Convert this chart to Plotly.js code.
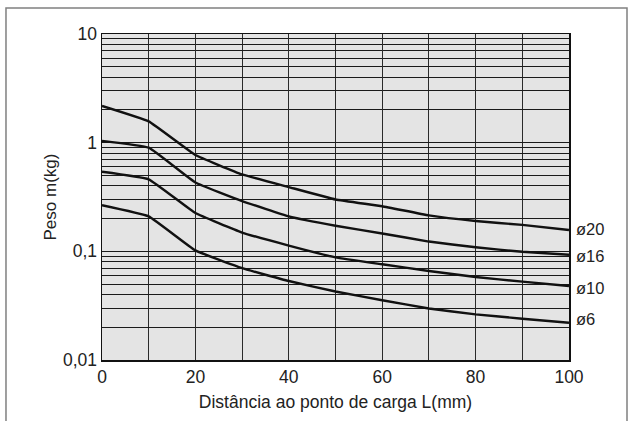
<!DOCTYPE html>
<html><head><meta charset="utf-8">
<script src="https://cdn.plot.ly/plotly-3.0.1.min.js"></script>
<style>html,body{margin:0;padding:0;background:#fff;}#chart{width:632px;height:421px;}</style>
</head><body><div id="chart"></div>
<script>
const distance = [0, 10, 20, 30, 40, 50, 60, 70, 80, 90, 100];
const seriesNames = ["ø20", "ø16", "ø10", "ø6"];
const mass20 = [2.18, 1.57, 0.77, 0.51, 0.39, 0.30, 0.26, 0.214, 0.19, 0.175, 0.157];
const mass16 = [1.04, 0.90, 0.43, 0.29, 0.21, 0.172, 0.146, 0.123, 0.109, 0.099, 0.093];
const mass10 = [0.54, 0.46, 0.225, 0.149, 0.113, 0.088, 0.076, 0.066, 0.058, 0.0526, 0.048];
const mass6  = [0.266, 0.21, 0.102, 0.070, 0.0533, 0.0427, 0.0355, 0.0298, 0.0263, 0.024, 0.022];
const yTickVals = [0.01, 0.1, 1, 10];
const yTickText = ["0,01", "0,1", "1", "10"];
const xTickVals = [0, 20, 40, 60, 80, 100];

const FONT = "Liberation Sans, Arial, Helvetica, sans-serif";
const allSeries = [mass20, mass16, mass10, mass6];
const labelShift = [1, -1, -2, 4];
const traces = allSeries.map((ys, i) => ({
  x: distance, y: ys, type: "scatter", mode: "lines", name: seriesNames[i],
  line: {color: "#111", width: 2.4, shape: "spline", smoothing: 0.3},
  hoverinfo: "skip"
}));

const annotations = allSeries.map((ys, i) => ({
  x: 100, y: Math.log10(ys[ys.length - 1]), xref: "x", yref: "y",
  text: seriesNames[i], showarrow: false, xanchor: "left", xshift: 5, yshift: labelShift[i],
  font: {family: FONT, size: 16.5, color: "#222"}
}));

const layout = {
  width: 632, height: 421,
  margin: {l: 102, r: 63, t: 34, b: 61},
  paper_bgcolor: "#fff", plot_bgcolor: "#e4e4e4",
  showlegend: false,
  font: {family: FONT, color: "#222"},
  xaxis: {
    range: [0, 100], tickvals: xTickVals, ticks: "",
    tickfont: {size: 17.5},
    showgrid: true, gridcolor: "#2a2a2a", gridwidth: 1,
    minor: {dtick: 10, showgrid: true, gridcolor: "#2a2a2a", gridwidth: 1},
    showline: true, linecolor: "#111", linewidth: 1.5, mirror: true,
    zeroline: false,
    title: {text: "Distância ao ponto de carga L(mm)", font: {size: 17.5}, standoff: 10}
  },
  yaxis: {
    type: "log", range: [-2, 1], tickvals: yTickVals, ticktext: yTickText, ticks: "",
    tickfont: {size: 17.5},
    showgrid: true, gridcolor: "#1a1a1a", gridwidth: 1,
    minor: {dtick: "D1", showgrid: true, gridcolor: "#1a1a1a", gridwidth: 1},
    showline: true, linecolor: "#111", linewidth: 1.5, mirror: true,
    zeroline: false,
    title: {text: "Peso m(kg)", font: {size: 17}, standoff: 2}
  },
  annotations: annotations,
  shapes: [{
    type: "path", xref: "paper", yref: "paper",
    path: "M -0.2056 -0.19 L -0.2056 1.0798 L 1.1242 1.0798 L 1.1242 -0.19",
    line: {color: "#808080", width: 1.5}
  }]
};

Plotly.newPlot("chart", traces, layout, {displayModeBar: false, staticPlot: true});
</script></body></html>
